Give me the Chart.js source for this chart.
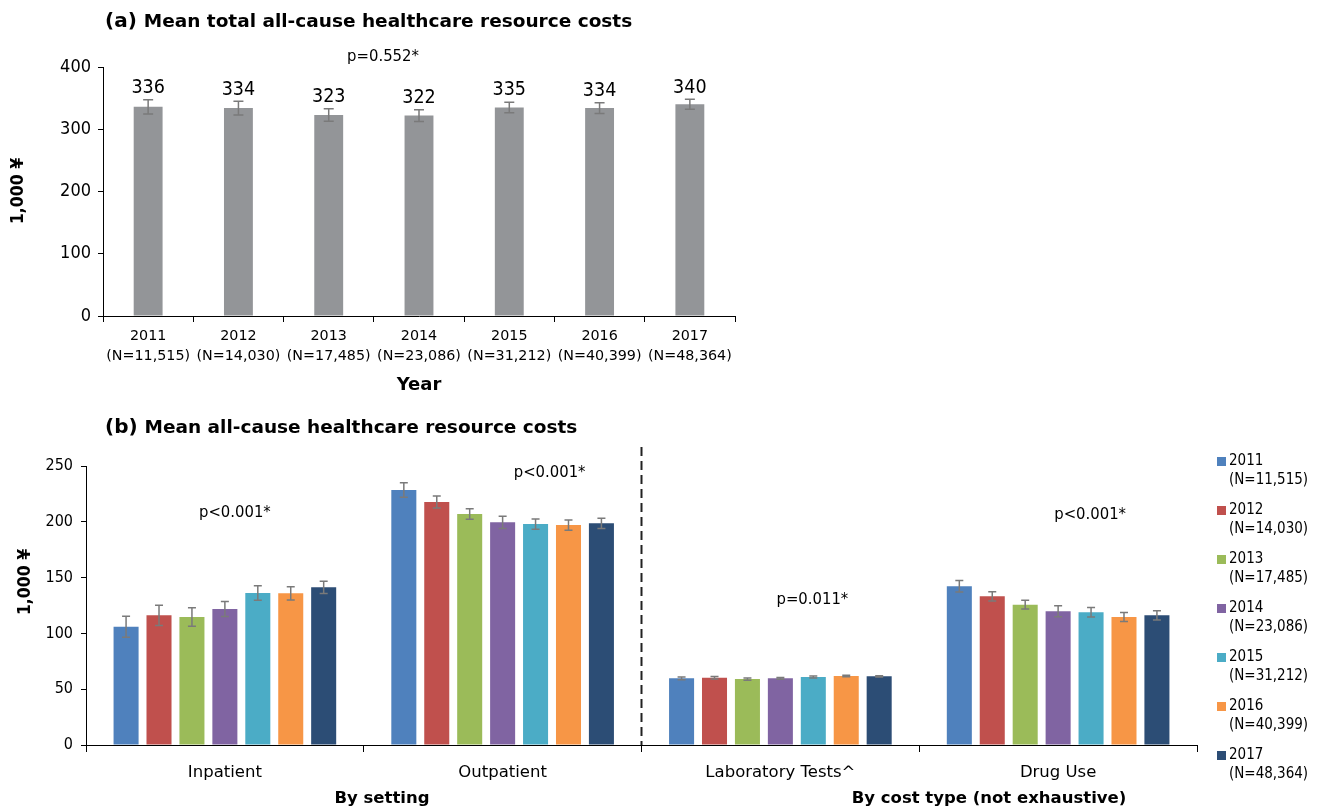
<!DOCTYPE html>
<html>
<head>
<meta charset="utf-8">
<script src="https://cdn.jsdelivr.net/npm/chart.js@4.4.1/dist/chart.umd.min.js"></script>
<style>
  html, body { margin: 0; padding: 0; background: #fff; }
  body { width: 1318px; height: 811px; position: relative; overflow: hidden; }
  #wrapA { position: absolute; left: 0; top: 0; width: 760px; height: 400px; }
  #wrapB { position: absolute; left: 0; top: 400px; width: 1318px; height: 411px; }
</style>
</head>
<body>
<div id="wrapA"><canvas id="TotalCosts" width="760" height="400"></canvas></div>
<div id="wrapB"><canvas id="CostsByType" width="1318" height="411"></canvas></div>
<script>
(function () {
  "use strict";

  // Data (1,000 ¥)
  const years      = ['2011', '2012', '2013', '2014', '2015', '2016', '2017'];
  const yearN      = ['(N=11,515)', '(N=14,030)', '(N=17,485)', '(N=23,086)', '(N=31,212)', '(N=40,399)', '(N=48,364)'];
  const totalMean  = [336, 334, 323, 322, 335, 334, 340];
  const totalErr   = [11.5, 11, 10, 9.5, 8.5, 8.5, 8];
  const totalTicks = [0, 100, 200, 300, 400];

  const costTypes  = ['Inpatient', 'Outpatient', 'Laboratory Tests^', 'Drug Use'];
  const cost2011   = [106.0, 228.5, 59.7, 142.2];
  const cost2012   = [116.2, 217.7, 60.3, 133.2];
  const cost2013   = [114.7, 207.0, 59.1, 125.7];
  const cost2014   = [121.9, 199.5, 59.7, 119.8];
  const cost2015   = [136.2, 198.0, 60.9, 118.9];
  const cost2016   = [135.9, 197.1, 61.8, 114.7];
  const cost2017   = [141.3, 198.6, 61.5, 116.2];
  const err2011    = [9.4, 6.4, 1.2, 5.2];
  const err2012    = [9.1, 5.4, 1.1, 4.2];
  const err2013    = [8.2, 4.8, 1.0, 3.9];
  const err2014    = [6.7, 5.4, 0.8, 4.9];
  const err2015    = [6.6, 4.6, 0.9, 4.3];
  const err2016    = [6.0, 4.6, 0.7, 4.0];
  const err2017    = [5.5, 4.5, 0.6, 4.2];
  const typeTicks  = [0, 50, 100, 150, 200, 250];

  // Colors
  const bar_gray   = '#939598';
  const err_gray   = '#7a7a7a';
  const yearColors = ['#4F81BD', '#C0504D', '#9BBB59', '#8064A2', '#4BACC6', '#F79646', '#2C4D75'];

  // Fonts
  const NARROW = "'DejaVu Sans Condensed', 'DejaVu Sans', sans-serif";
  const WIDE   = "'DejaVu Sans', sans-serif";
  Chart.defaults.font.family = NARROW;
  Chart.defaults.color = '#000';

  // Error bars drawn with the chart's own y scale
  const errorBars = {
    id: 'errorBars',
    afterDatasetsDraw(chart, args, opts) {
      const ctx = chart.ctx, y = chart.scales.y;
      ctx.save();
      ctx.strokeStyle = opts.color || err_gray;
      ctx.lineWidth = opts.width || 1.5;
      chart.data.datasets.forEach((ds, i) => {
        if (!ds.errors) return;
        chart.getDatasetMeta(i).data.forEach((bar, j) => {
          const v = ds.data[j], e = ds.errors[j];
          const top = y.getPixelForValue(v + e), bot = y.getPixelForValue(v - e);
          const cap = opts.cap || 4;
          ctx.beginPath();
          ctx.moveTo(bar.x, top); ctx.lineTo(bar.x, bot);
          ctx.moveTo(bar.x - cap, top); ctx.lineTo(bar.x + cap, top);
          ctx.moveTo(bar.x - cap, bot); ctx.lineTo(bar.x + cap, bot);
          ctx.stroke();
        });
      });
      ctx.restore();
    }
  };

  // Free text: titles, p-values, value labels, group labels, legend
  const textLayer = {
    id: 'textLayer',
    afterDraw(chart, args, opts) {
      const ctx = chart.ctx, x = chart.scales.x, y = chart.scales.y;
      ctx.save();
      ctx.fillStyle = '#000';

      // title
      ctx.textBaseline = 'middle';
      ctx.textAlign = 'left';
      ctx.font = 'bold 20px ' + WIDE;
      ctx.fillText(opts.tag, opts.titleX, opts.titleY);
      const w = ctx.measureText(opts.tag + ' ').width;
      ctx.font = 'bold 18.5px ' + WIDE;
      ctx.fillText(opts.title, opts.titleX + w, opts.titleY);

      // rotated y title
      ctx.save();
      ctx.translate(opts.yTitle.x, opts.yTitle.y);
      ctx.rotate(-Math.PI / 2);
      ctx.textAlign = 'center';
      ctx.font = 'bold 17.5px ' + NARROW;
      ctx.fillText('1,000 ¥', 0, 0);
      ctx.restore();

      // p-values
      ctx.textAlign = 'center';
      ctx.font = '16.5px ' + NARROW;
      (opts.notes || []).forEach(n => {
        const px = n.cat != null ? x.getPixelForValue(n.cat) + n.dx : n.x;
        const py = n.val != null ? y.getPixelForValue(n.val) : n.y;
        ctx.fillText(n.text, px, py);
      });

      // value labels above error bars
      if (opts.valueLabels) {
        ctx.font = '19.5px ' + NARROW;
        ctx.textBaseline = 'bottom';
        const ds = chart.data.datasets[0];
        chart.getDatasetMeta(0).data.forEach((bar, j) => {
          const top = y.getPixelForValue(ds.data[j] + ds.errors[j]);
          ctx.fillText(String(ds.data[j]), bar.x, top - 2);
        });
      }

      // group labels
      ctx.font = 'bold 16.5px ' + WIDE;
      ctx.textBaseline = 'middle';
      (opts.groups || []).forEach(g => ctx.fillText(g.text, g.x, g.y));

      // dashed separator
      if (opts.separator) {
        const sx = (x.getPixelForValue(1) + x.getPixelForValue(2)) / 2;
        ctx.strokeStyle = '#222';
        ctx.lineWidth = 2;
        ctx.setLineDash([9, 5]);
        ctx.beginPath();
        ctx.moveTo(sx, opts.separator.top);
        ctx.lineTo(sx, chart.chartArea.bottom);
        ctx.stroke();
        ctx.setLineDash([]);
      }

      // legend
      if (opts.legend) {
        const L = opts.legend;
        ctx.textAlign = 'left';
        ctx.font = '15px ' + NARROW;
        chart.data.datasets.forEach((ds, i) => {
          const ly = L.y + i * L.step;
          ctx.fillStyle = ds.backgroundColor;
          ctx.fillRect(L.x, ly - 4, 9, 9);
          ctx.fillStyle = '#000';
          ctx.fillText(ds.label, L.x + 12, ly);
          ctx.fillText(yearN[i], L.x + 12, ly + 19);
        });
      }
      ctx.restore();
    }
  };

  function tickList(list) {
    return function (scale) { scale.ticks = list.map(v => ({ value: v })); };
  }

  // (a) Mean total all-cause healthcare resource costs
  const chart_total = document.getElementById('TotalCosts');
  if (chart_total != null) {
    new Chart(chart_total.getContext('2d'), {
      type: 'bar',
      data: {
        labels: years.map((yr, i) => [yr, yearN[i]]),
        datasets: [{
          label: 'Total',
          data: totalMean,
          errors: totalErr,
          backgroundColor: bar_gray,
          categoryPercentage: 1,
          barPercentage: 0.32
        }]
      },
      options: {
        responsive: false,
        animation: false,
        layout: { padding: { top: 67, right: 25, left: 0, bottom: 0 } },
        plugins: {
          legend: { display: false },
          tooltip: { enabled: false },
          errorBars: { color: err_gray, width: 1.5, cap: 5 },
          textLayer: {
            tag: '(a)', title: 'Mean total all-cause healthcare resource costs', titleX: 105, titleY: 22,
            yTitle: { x: 18, y: 191 },
            notes: [{ text: 'p=0.552*', x: 383, y: 57 }],
            valueLabels: true
          }
        },
        scales: {
          x: {
            grid: { drawOnChartArea: false, tickLength: 6, color: '#000', offset: true },
            border: { color: '#000' },
            ticks: { color: '#000', font: { family: WIDE, size: 14.3, lineHeight: 1.4 }, padding: 4, maxRotation: 0, autoSkip: false },
            title: { display: true, text: 'Year', font: { family: WIDE, size: 18, weight: 'bold' }, padding: { top: 0, bottom: 4 } },
            afterFit: s => { s.height = 84; }
          },
          y: {
            min: 0, max: 400,
            afterBuildTicks: tickList(totalTicks),
            grid: { drawOnChartArea: false, tickLength: 5, color: '#000' },
            border: { color: '#000' },
            ticks: { font: { size: 18 }, padding: 7 },
            afterFit: s => { s.width = 103; }
          }
        }
      },
      plugins: [errorBars, textLayer]
    });
  }

  // (b) Mean all-cause healthcare resource costs
  const chart_types = document.getElementById('CostsByType');
  if (chart_types != null) {
    const series = [cost2011, cost2012, cost2013, cost2014, cost2015, cost2016, cost2017];
    const errs   = [err2011, err2012, err2013, err2014, err2015, err2016, err2017];
    new Chart(chart_types.getContext('2d'), {
      type: 'bar',
      data: {
        labels: costTypes,
        datasets: series.map((d, i) => ({
          label: years[i],
          data: d,
          errors: errs[i],
          backgroundColor: yearColors[i],
          categoryPercentage: 0.83,
          barPercentage: 0.76
        }))
      },
      options: {
        responsive: false,
        animation: false,
        layout: { padding: { top: 66, right: 121, left: 0, bottom: 0 } },
        plugins: {
          legend: { display: false },
          tooltip: { enabled: false },
          errorBars: { color: err_gray, width: 1.5, cap: 4 },
          textLayer: {
            tag: '(b)', title: 'Mean all-cause healthcare resource costs', titleX: 105, titleY: 28,
            yTitle: { x: 25, y: 182 },
            notes: [
              { text: 'p<0.001*', cat: 0, dx: 10, val: 208 },
              { text: 'p<0.001*', cat: 1, dx: 47, val: 244 },
              { text: 'p=0.011*', cat: 2, dx: 32, val: 130 },
              { text: 'p<0.001*', cat: 3, dx: 32, val: 206 }
            ],
            groups: [
              { text: 'By setting', x: 382, y: 399 },
              { text: 'By cost type (not exhaustive)', x: 989, y: 399 }
            ],
            separator: { top: 47 },
            legend: { x: 1217, y: 61, step: 49 }
          }
        },
        scales: {
          x: {
            grid: { drawOnChartArea: false, tickLength: 7, color: '#000', offset: true },
            border: { color: '#000' },
            ticks: { font: { family: WIDE, size: 16.5 }, padding: 11, maxRotation: 0, autoSkip: false },
            afterFit: s => { s.height = 66; }
          },
          y: {
            min: 0, max: 250,
            afterBuildTicks: tickList(typeTicks),
            grid: { drawOnChartArea: false, tickLength: 5, color: '#000' },
            border: { color: '#000' },
            ticks: { font: { size: 16 }, padding: 8 },
            afterFit: s => { s.width = 86; }
          }
        }
      },
      plugins: [errorBars, textLayer]
    });
  }

})();
</script>
</body>
</html>
